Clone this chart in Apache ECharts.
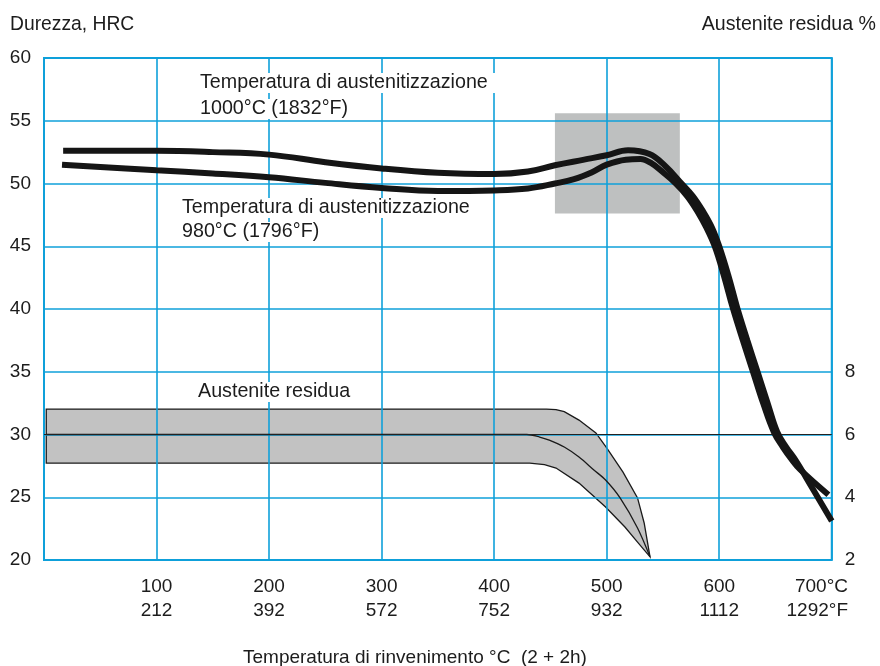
<!DOCTYPE html>
<html><head><meta charset="utf-8">
<script src="https://cdn.jsdelivr.net/npm/echarts@6/dist/echarts.min.js"></script>
<style>html,body{margin:0;padding:0;background:#fff}#c{width:880px;height:666px}</style>
</head><body><div id="c"></div>
<script>
// ---- tick labels ----
const celsiusTicks = [100, 200, 300, 400, 500, 600, 700];
const celsiusLabels = ['100', '200', '300', '400', '500', '600', '700°C'];
const fahrenheitLabels = ['212', '392', '572', '752', '932', '1112', '1292°F'];
const austeniteTickLabels = [2, 4, 6, 8];

// ---- hardness curves [temperature °C, HRC] ----
const hardness1000 = [[17,52.6],[100,52.6],[150,52.5],[200,52.3],[250,51.7],[300,51.2],[350,50.85],[400,50.75],[430,50.95],[454,51.45],[480,51.9],[500,52.25],[519,52.65],[538,52.35],[552,51.4],[566.5,50.0],[576.5,49.0],[585.5,47.8],[593.5,46.5],[600,45],[608,42.7],[616,40.1],[625,37.5],[634,35],[643,32.5],[651.5,30.2],[659.5,29.0],[667.5,28.0],[677,26.6],[700,23.1]];
const hardness980 = [[16,51.5],[100,51.05],[150,50.8],[200,50.5],[250,50.05],[300,49.65],[350,49.4],[400,49.45],[430,49.6],[454,50.0],[471,50.35],[487,50.9],[500,51.5],[517,51.9],[530,51.95],[540,51.6],[550,50.9],[561.5,50.0],[571.5,49.0],[580.5,47.8],[588.5,46.5],[596,45],[604,42.7],[612,40.1],[621,37.5],[630,35],[639,32.5],[648.5,30.2],[656.5,29.0],[664.5,28.0],[672,27.2],[697,25.2]];

// ---- retained austenite band [temperature °C, %] ----
const austUpper = [[2,6.81],[446.5,6.81],[455,6.79],[462.3,6.73],[475.4,6.46],[490.4,6.05],[500,5.57],[514.5,4.8],[527.4,3.98],[533.3,3.18],[538.5,2.1]];
const austMiddle = [[2,6.0],[429,6.0],[440.4,5.92],[449,5.82],[462.3,5.6],[475.4,5.28],[488.6,4.87],[499,4.55],[511.9,3.98],[527.4,3.02],[538.5,2.1]];
const austLower = [[2,5.09],[431.6,5.09],[444.7,5.04],[455,4.93],[475.4,4.45],[499,3.69],[516.2,3.05],[527.4,2.57],[538.5,2.1]];

// ---- reference line and highlighted box ----
const referenceLine = [[0,30],[700,30]];
const boxTemp = [454, 565];
const boxHrc = [47.6, 55.6];

const FONT = "'Liberation Sans', Arial, Helvetica, sans-serif";
const TXT = '#1c1c1c';
const BLUE = '#0fa0da';
const BLACK = '#151515';

const chart = echarts.init(document.getElementById('c'), null, {renderer: 'canvas'});
chart.setOption({
  animation: false,
  backgroundColor: '#fff',
  textStyle: {fontFamily: FONT},
  title: [
    {text: 'Durezza, HRC', left: 10, top: 15, padding: 0, textStyle: {fontSize: 19.3, fontWeight: 'normal', color: TXT, fontFamily: FONT}},
    {text: 'Austenite residua %', right: 4, top: 15, padding: 0, textStyle: {fontSize: 19.6, fontWeight: 'normal', color: TXT, fontFamily: FONT}},
    {text: 'Temperatura di rinvenimento °C  (2 + 2h)', left: 243, top: 648, padding: 0, textStyle: {fontSize: 19, fontWeight: 'normal', color: TXT, fontFamily: FONT}}
  ],
  grid: {left: 44, right: 47, top: 58, bottom: 106, show: true, borderColor: BLUE, borderWidth: 2, z: 1},
  xAxis: {
    type: 'value', min: 0, max: 700, interval: 100, z: 1,
    axisLine: {show: false}, axisTick: {show: false},
    splitLine: {show: true, lineStyle: {color: BLUE, width: 1.6}},
    axisLabel: {
      margin: 15, fontSize: 19, lineHeight: 24, color: TXT, fontFamily: FONT,
      formatter: function (v) {
        const i = celsiusTicks.indexOf(v);
        if (i < 0) return '';
        if (i === celsiusTicks.length - 1) return '{e|' + celsiusLabels[i] + '}\n{e|' + fahrenheitLabels[i] + '}';
        return celsiusLabels[i] + '\n' + fahrenheitLabels[i];
      },
      rich: {e: {align: 'right', padding: [0, 29, 0, 0], fontSize: 19, lineHeight: 24, color: TXT, fontFamily: FONT}}
    }
  },
  yAxis: [
    {
      type: 'value', min: 20, max: 60, interval: 5, z: 1,
      axisLine: {show: false}, axisTick: {show: false},
      splitLine: {show: true, lineStyle: {color: BLUE, width: 1.6}},
      axisLabel: {margin: 13, fontSize: 19, color: TXT, fontFamily: FONT}
    },
    {
      type: 'value', position: 'right', min: 2, max: 18, interval: 2, z: 1,
      axisLine: {show: false}, axisTick: {show: false}, splitLine: {show: false},
      axisLabel: {margin: 13, fontSize: 19, color: TXT, fontFamily: FONT, padding: [8, 0, 0, 0],
        formatter: function (v) { return austeniteTickLabels.indexOf(v) >= 0 ? String(v) : ''; }}
    }
  ],
  graphic: [
    {type: 'text', z: 3, x: 186, y: 70, style: {
      text: '{a|Temperatura di austenitizzazione}\n{a|1000°C (1832°F)}',
      rich: {a: {fontSize: 19.7, fontFamily: FONT, fill: TXT, lineHeight: 26, backgroundColor: '#fff', padding: [0, 14, 0, 14]}}
    }},
    {type: 'text', z: 3, x: 170, y: 196, style: {
      text: '{a|Temperatura di austenitizzazione}\n{a|980°C (1796°F)}',
      rich: {a: {fontSize: 19.7, fontFamily: FONT, fill: TXT, lineHeight: 24, backgroundColor: '#fff', padding: [0, 12, 0, 12]}}
    }},
    {type: 'text', z: 3, x: 188, y: 380, style: {
      text: '{a|Austenite residua}',
      rich: {a: {fontSize: 19.7, fontFamily: FONT, fill: TXT, lineHeight: 24, backgroundColor: '#fff', padding: [0, 10, 0, 10]}}
    }}
  ],
  series: [
    {
      type: 'custom', name: 'box', z: 0, yAxisIndex: 0, silent: true,
      data: [[boxTemp[0], boxHrc[0]]],
      renderItem: function (params, api) {
        const p1 = api.coord([boxTemp[0], boxHrc[1]]);
        const p2 = api.coord([boxTemp[1], boxHrc[0]]);
        return {type: 'rect', shape: {x: p1[0], y: p1[1], width: p2[0] - p1[0], height: p2[1] - p1[1]}, style: {fill: '#bec0c0'}};
      }
    },
    {
      type: 'custom', name: 'band', z: 0, yAxisIndex: 1, silent: true,
      data: [austUpper[0]],
      renderItem: function (params, api) {
        const pts = austUpper.concat(austLower.slice().reverse()).map(function (p) { return api.coord(p); });
        return {type: 'polygon', shape: {points: pts}, style: {fill: '#c2c2c2', stroke: '#1a1a1a', lineWidth: 1.3}};
      }
    },
    {
      type: 'line', name: 'middle', yAxisIndex: 1, z: 4, data: austMiddle, smooth: 0.3,
      symbol: 'none', lineStyle: {color: '#1a1a1a', width: 1.3}
    },
    {
      type: 'line', name: 'ref', yAxisIndex: 0, z: 4, data: referenceLine,
      symbol: 'none', lineStyle: {color: '#222', width: 1.2}
    },
    {
      type: 'line', name: '1000', yAxisIndex: 0, z: 5, data: hardness1000, smooth: 0.4,
      symbol: 'none', lineStyle: {color: BLACK, width: 6}
    },
    {
      type: 'line', name: '980', yAxisIndex: 0, z: 5, data: hardness980, smooth: 0.4,
      symbol: 'none', lineStyle: {color: BLACK, width: 6}
    }
  ]
});
</script></body></html>
